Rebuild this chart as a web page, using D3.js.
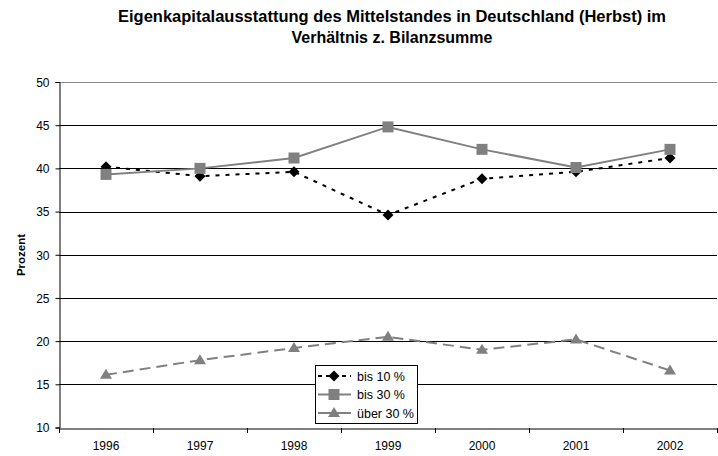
<!DOCTYPE html>
<html>
<head>
<meta charset="utf-8" />
<script src="https://cdnjs.cloudflare.com/ajax/libs/d3/7.8.5/d3.min.js"></script>
<style>
body { margin: 0; background: #fff; }
svg { font-family: "Liberation Sans", Arial, sans-serif; }
</style>
</head>
<body>
<svg id="chart" width="718" height="456"></svg>
<script>
// data
var years = ["1996", "1997", "1998", "1999", "2000", "2001", "2002"];
var bis10 = [40.2, 39.1, 39.6, 34.6, 38.8, 39.6, 41.2];
var bis30 = [39.3, 40.0, 41.2, 44.8, 42.2, 40.1, 42.2];
var ueber30 = [16.1, 17.8, 19.2, 20.5, 19.0, 20.2, 16.6];
var yTicks = [10, 15, 20, 25, 30, 35, 40, 45, 50];
var seriesNames = ["bis 10 %", "bis 30 %", "über 30 %"];

var svg = d3.select("#chart");
var plotLeft = 59, plotRight = 717, plotTop = 82, plotBottom = 427.5;

var x = d3.scaleBand().domain(years).range([plotLeft, plotRight]);
var y = d3.scaleLinear().domain([10, 50]).range([plotBottom, plotTop]);

// title
svg.append("text").attr("x", 392).attr("y", 22).attr("text-anchor", "middle")
   .attr("font-size", 16).attr("font-weight", "bold")
   .attr("textLength", 548).attr("lengthAdjust", "spacingAndGlyphs")
   .text("Eigenkapitalausstattung des Mittelstandes in Deutschland (Herbst) im");
svg.append("text").attr("x", 392).attr("y", 43).attr("text-anchor", "middle")
   .attr("font-size", 16).attr("font-weight", "bold")
   .text("Verhältnis z. Bilanzsumme");

// gridlines
svg.append("g").selectAll("line").data(yTicks.slice(1)).enter().append("line")
   .attr("x1", plotLeft).attr("x2", plotRight)
   .attr("y1", function(d){ return Math.round(y(d)) + 0.5; })
   .attr("y2", function(d){ return Math.round(y(d)) + 0.5; })
   .attr("stroke", function(d){ return d == 50 ? "#888" : "#000"; })
   .attr("stroke-width", 1);

// axes
var yAxis = svg.append("g").attr("transform", "translate(" + (plotLeft + 0.5) + ",0)")
   .call(d3.axisLeft(y).tickValues(yTicks).tickSize(4).tickPadding(6));
var xAxis = svg.append("g").attr("transform", "translate(0," + (Math.round(plotBottom) + 0.5) + ")")
   .call(d3.axisBottom(x).tickSize(0).tickPadding(13));
[yAxis, xAxis].forEach(function(g){
  g.select(".domain").attr("stroke", "#000");
  g.selectAll("text").attr("font-size", 12).attr("fill", "#000")
   .attr("font-family", "Liberation Sans, Arial, sans-serif");
  g.selectAll("line").attr("stroke", "#000");
});
yAxis.selectAll("text").attr("dy", "0.36em");
// x ticks at band boundaries
svg.append("g").selectAll("line").data(years.concat(["end"])).enter().append("line")
   .attr("x1", function(d, i){ return Math.round(plotLeft + i * x.step()) + 0.5; })
   .attr("x2", function(d, i){ return Math.round(plotLeft + i * x.step()) + 0.5; })
   .attr("y1", Math.round(plotBottom)).attr("y2", Math.round(plotBottom) + 5)
   .attr("stroke", "#000");

svg.append("text").attr("transform", "translate(25,255) rotate(-90)")
   .attr("text-anchor", "middle").attr("font-size", 11.5).attr("font-weight", "bold")
   .text("Prozent");

var cx = function(d, i){ return x(years[i]) + x.bandwidth() / 2; };
var line = d3.line().x(cx).y(function(d){ return y(d); });

var series = [
  { name: seriesNames[0], values: bis10, color: "#000", dash: "4,6", legDash: "4,4", marker: "diamond" },
  { name: seriesNames[1], values: bis30, color: "#808080", dash: null, legDash: null, marker: "square" },
  { name: seriesNames[2], values: ueber30, color: "#808080", dash: "11,6", legDash: null, marker: "triangle" }
];

function drawMarker(g, kind, color) {
  if (kind == "diamond") {
    g.append("path").attr("d", "M0,-5.5L5.5,0L0,5.5L-5.5,0Z").attr("fill", color);
  } else if (kind == "square") {
    g.append("rect").attr("x", -5.5).attr("y", -5.5).attr("width", 11).attr("height", 11).attr("fill", color);
  } else {
    g.append("path").attr("d", "M0,-6L6,4L-6,4Z").attr("fill", color);
  }
}

series.forEach(function(s){
  svg.append("path").datum(s.values).attr("d", line)
     .attr("fill", "none").attr("stroke", s.color).attr("stroke-width", 2)
     .attr("stroke-dasharray", s.dash);
  s.values.forEach(function(v, i){
    var g = svg.append("g").attr("transform", "translate(" + cx(v, i) + "," + y(v) + ")");
    drawMarker(g, s.marker, s.color);
  });
});

// legend
var leg = svg.append("g").attr("transform", "translate(315,365)");
leg.append("rect").attr("x", 0.5).attr("y", 0.5).attr("width", 102).attr("height", 58)
   .attr("fill", "#fff").attr("stroke", "#000");
series.forEach(function(s, i){
  var ly = 11 + i * 18.5;
  leg.append("line").attr("x1", 3).attr("x2", 36).attr("y1", ly).attr("y2", ly)
     .attr("stroke", s.color).attr("stroke-width", 2).attr("stroke-dasharray", s.legDash);
  var g = leg.append("g").attr("transform", "translate(19," + ly + ")");
  drawMarker(g, s.marker, s.color);
  leg.append("text").attr("x", 42).attr("y", ly).attr("dy", "0.36em")
     .attr("font-size", 12.5).attr("fill", "#000").text(s.name);
});
</script>
</body>
</html>
